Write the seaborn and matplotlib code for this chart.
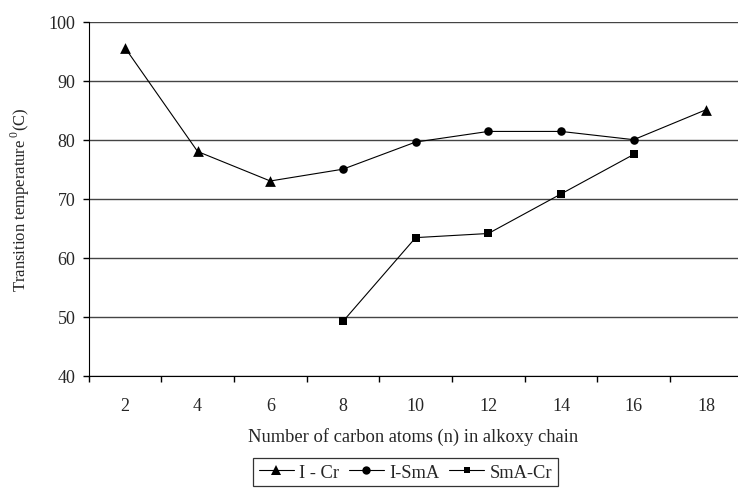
import numpy as np
import pandas as pd
import seaborn as sns
import matplotlib.pyplot as plt
from matplotlib.lines import Line2D
from matplotlib.ticker import MultipleLocator

# carbon atoms in the alkoxy chain
n_carbon = [2, 4, 6, 8, 10, 12, 14, 16, 18]
# transition temperatures (C), NaN where the transition is absent
t_i_cr = [95.6, 78.0, 73.0, np.nan, np.nan, np.nan, np.nan, np.nan, 85.1]
t_i_sma = [np.nan, np.nan, np.nan, 75.0, 79.6, 81.4, 81.4, 80.0, np.nan]
t_sma_cr = [np.nan, np.nan, np.nan, 49.2, 63.4, 64.1, 70.8, 77.5, np.nan]

df = pd.DataFrame({"n": n_carbon, "I-Cr": t_i_cr, "I-SmA": t_i_sma, "SmA-Cr": t_sma_cr})
# clearing line: I-Cr where there is no mesophase, I-SmA otherwise
df["clear"] = df["I-Cr"].fillna(df["I-SmA"])

sns.set_style("white")
plt.rcParams["font.family"] = ["Liberation Serif", "DejaVu Serif"]
plt.rcParams["mathtext.fontset"] = "custom"
plt.rcParams["mathtext.rm"] = "Liberation Serif"

fig = plt.figure(figsize=(7.38, 4.89), dpi=100)
ax = fig.add_axes([0.120, 0.2297, 0.880, 0.7239])

sns.lineplot(data=df, x="n", y="clear", color="black", lw=0.8, ax=ax)
sns.scatterplot(data=df, x="n", y="I-Cr", marker="^", s=60, color="black",
                edgecolor="black", linewidth=0, ax=ax, zorder=3)
sns.scatterplot(data=df, x="n", y="I-SmA", marker="o", s=38, color="black",
                edgecolor="black", linewidth=0, ax=ax, zorder=3)
sma = df.dropna(subset=["SmA-Cr"])
sns.lineplot(data=sma, x="n", y="SmA-Cr", color="black", lw=0.8, marker="s",
             markersize=5.5, markeredgewidth=0, ax=ax)

ax.set_ylim(40, 100)
ax.set_xlim(1, 18.87)
ax.set_yticks(range(40, 101, 10))
ax.set_xticks(n_carbon)
ax.xaxis.set_minor_locator(MultipleLocator(2, offset=1))
ax.grid(axis="y", color="#444444", lw=1.0)
ax.set_axisbelow(True)
for s in ["top", "right"]:
    ax.spines[s].set_visible(False)
ax.spines["left"].set_color("black")
ax.spines["bottom"].set_color("black")
ax.tick_params(axis="x", which="major", length=0, pad=15.5, labelsize=13)
ax.tick_params(axis="x", which="minor", length=4.5, width=1, color="black", direction="out", bottom=True)
ax.tick_params(axis="y", length=4.5, width=1, color="black", direction="out", left=True, pad=5, labelsize=13)

ax.set_xlabel("Number of carbon atoms (n) in alkoxy chain", fontsize=13.3, labelpad=9)
ax.set_ylabel("Transition temperature$\\,^{0}$(C)", fontsize=12, labelpad=12)

handles = [
    Line2D([], [], color="black", lw=0.8, marker="^", markersize=7, markeredgewidth=0),
    Line2D([], [], color="black", lw=0.8, marker="o", markersize=6, markeredgewidth=0),
    Line2D([], [], color="black", lw=0.8, marker="s", markersize=5, markeredgewidth=0),
]
leg = fig.legend(handles, ["I - Cr", "I-SmA", "SmA-Cr"], loc="center",
                 bbox_to_anchor=(0.5495, 0.032), ncol=3, fontsize=13.3, frameon=True,
                 fancybox=False, edgecolor="black", borderpad=0.3, handlelength=1.9,
                 handletextpad=0.3, columnspacing=0.5, borderaxespad=0)
leg.get_frame().set_linewidth(0.9)

fig.savefig("out.png", dpi=100)
